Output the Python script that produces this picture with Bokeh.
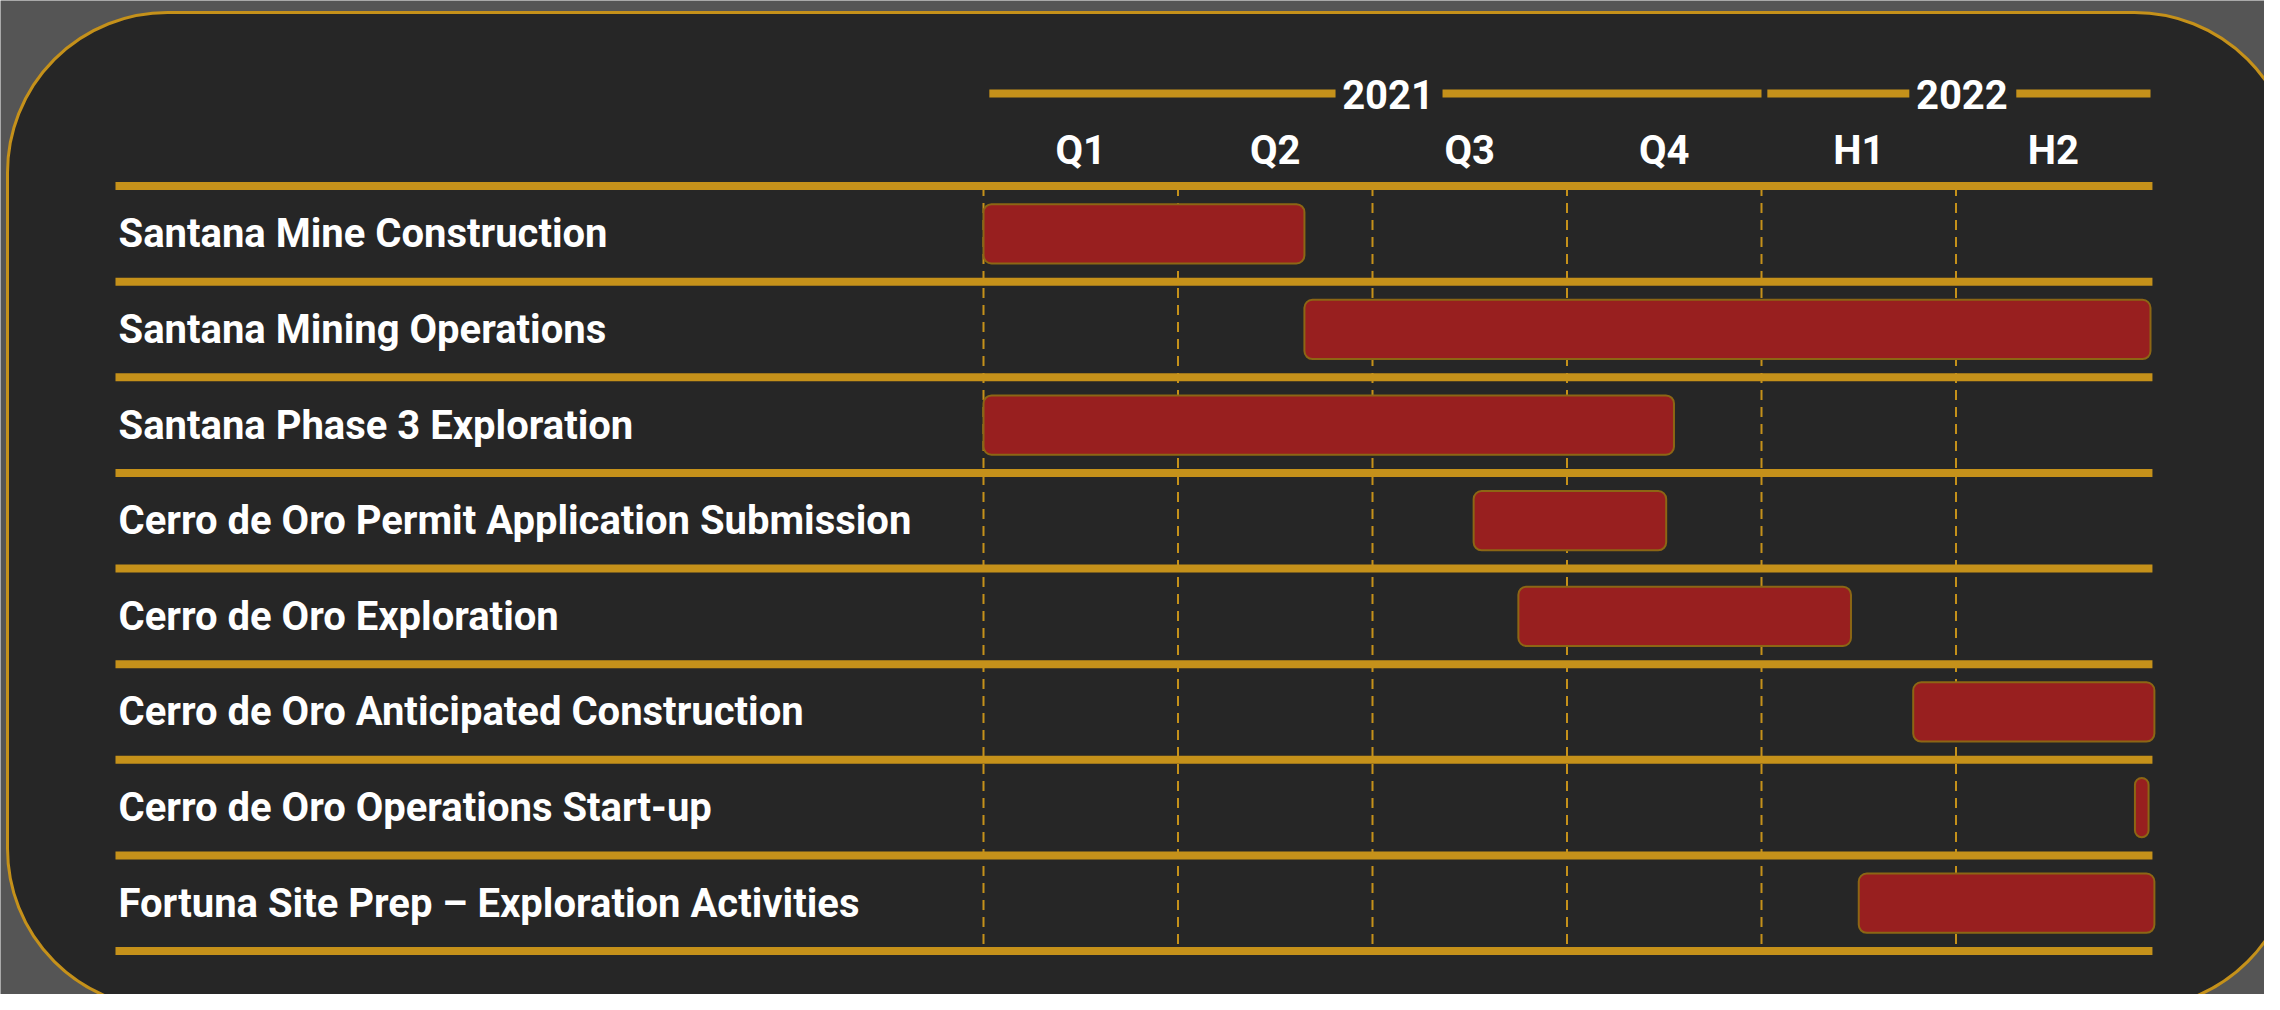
from bokeh.plotting import figure
from bokeh.models import Range1d
from bokeh.core.properties import value
from bokeh.embed import file_html
from bokeh.resources import INLINE

# ---------------- data ----------------
tasks = [
    "Santana Mine Construction",
    "Santana Mining Operations",
    "Santana Phase 3 Exploration",
    "Cerro de Oro Permit Application Submission",
    "Cerro de Oro Exploration",
    "Cerro de Oro Anticipated Construction",
    "Cerro de Oro Operations Start-up",
    "Fortuna Site Prep \u2013 Exploration Activities",
]
# timeline position in period units (0 = start of 2021 Q1, each period = one header column)
task_start = [0.0, 1.65, 0.0, 2.52, 2.75, 4.78, 5.92, 4.50]
task_end = [1.65, 6.0, 3.55, 3.51, 4.46, 6.02, 5.99, 6.02]
periods = ["Q1", "Q2", "Q3", "Q4", "H1", "H2"]
years = ["2021", "2022"]
year_first_period = [0, 4]
year_last_period = [4, 6]

# ---------------- layout ----------------
W, H = 2264, 994
X0_PX = 983.0      # pixel of period 0
UNIT_X = 194.5     # pixels per period
Y0_PX = 185.5      # pixel of top separator (row -0.5)
UNIT_Y = 95.625    # pixels per row

def dx(px):
    return (px - X0_PX) / UNIT_X

def dy(py):
    return (py - Y0_PX) / UNIT_Y - 0.5

GOLD = "#C5911A"
PANEL = "#262626"
OUTER = "#555555"
BAR = "#981F1F"
BAR_EDGE = "#8C6614"
FONT = value("Roboto")
FS = "40px"

p = figure(width=W, height=H, output_backend="svg", toolbar_location=None,
           x_range=Range1d(dx(0), dx(W)), y_range=Range1d(dy(H), dy(0)),
           x_axis_location=None, y_axis_location=None, min_border=0,
           background_fill_color=OUTER, border_fill_color=OUTER,
           outline_line_color=None)
p.grid.visible = False

# rounded panel
p.quad(left=[dx(7)], right=[dx(2294)], top=[dy(12)], bottom=[dy(1008)],
       fill_color=PANEL, line_color=GOLD, line_width=3, border_radius=160)

n = len(tasks)
rows = list(range(n))

# vertical dashed period lines
p.segment(x0=list(range(len(periods))), x1=list(range(len(periods))),
          y0=[-0.5] * len(periods), y1=[n - 0.56] * len(periods),
          line_color=GOLD, line_width=2, line_dash="10 7")

# horizontal separators
seps = [r - 0.5 for r in range(n + 1)]
p.segment(x0=[dx(115)] * len(seps), x1=[len(periods) + 0.01] * len(seps),
          y0=seps, y1=seps, line_color=GOLD, line_width=8)

# bars
p.hbar(y=rows, left=task_start, right=task_end, height=0.62,
       fill_color=BAR, line_color=BAR_EDGE, line_width=2, border_radius=8)

# task labels
p.text(x=[dx(118)] * n, y=rows, text=tasks, text_color="white",
       text_font=FONT, text_font_style="bold", text_font_size=FS,
       text_baseline="middle", text_align="left")

# period headers
p.text(x=[i + 0.5 for i in range(len(periods))], y=[-0.87] * len(periods),
       text=periods, text_color="white", text_font=FONT, text_font_style="bold",
       text_font_size=FS, text_baseline="middle", text_align="center")

# year headers with lines
yx = [(a + b) / 2 + (0.08 if a == 0 else 0.03) for a, b in zip(year_first_period, year_last_period)]
p.text(x=yx, y=[-1.457] * len(years), text=years, text_color="white", text_font=FONT,
       text_font_style="bold", text_font_size=FS, text_baseline="middle", text_align="center")
x0s, x1s = [], []
for a, b, c in zip(year_first_period, year_last_period, yx):
    x0s += [a + 0.03, c + 0.28]
    x1s += [c - 0.27, b - 0.0]
p.segment(x0=x0s, x1=x1s, y0=[-1.467] * len(x0s), y1=[-1.467] * len(x0s),
          line_color=GOLD, line_width=8)

open("out.html", "w").write(file_html(p, INLINE))
